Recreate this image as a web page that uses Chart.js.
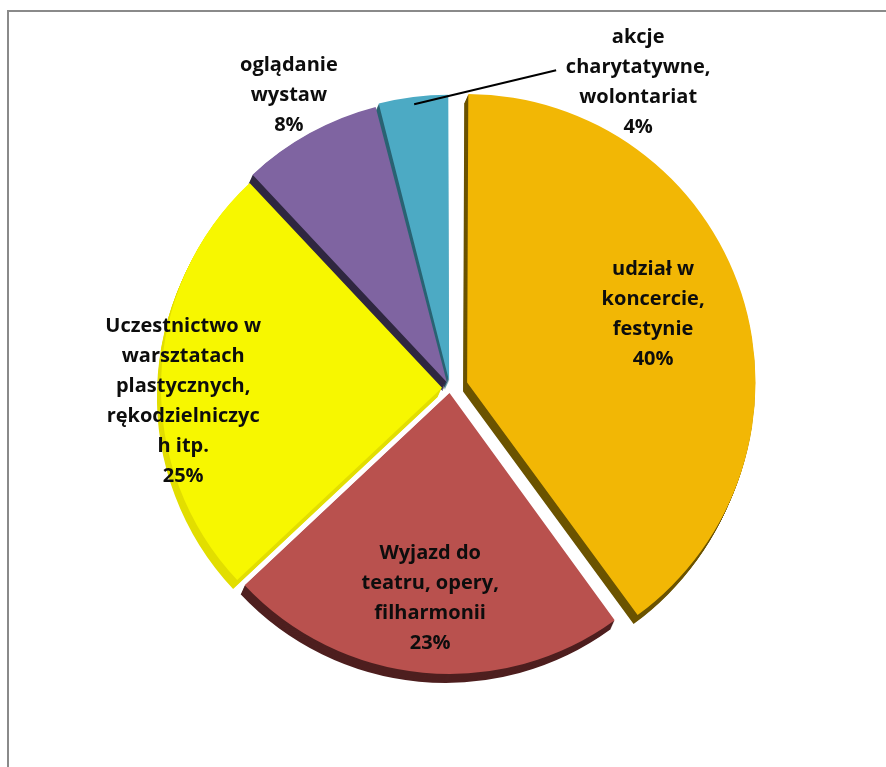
<!DOCTYPE html>
<html>
<head>
<meta charset="utf-8">
<script src="https://cdn.jsdelivr.net/npm/chart.js@4.4.1/dist/chart.umd.min.js"></script>
<style>
  html, body { margin: 0; padding: 0; background: #fff; overflow: hidden; }
  #wrap { position: relative; width: 886px; height: 767px; }
  #frame { position: absolute; left: 7px; top: 10px; width: 920px; height: 820px; border: 2px solid #8a8a8a; }
  #chart { position: absolute; left: 0; top: 0; }
</style>
</head>
<body>
<div id="wrap">
  <div id="frame"></div>
  <canvas id="chart" width="886" height="767"></canvas>
</div>
<script>
// categories (label lines as in the picture)
var categories = [
  ['udział w', 'koncercie,', 'festynie'],
  ['Wyjazd do', 'teatru, opery,', 'filharmonii'],
  ['Uczestnictwo w', 'warsztatach', 'plastycznych,', 'rękodzielniczyc', 'h itp.'],
  ['oglądanie', 'wystaw'],
  ['akcje', 'charytatywne,', 'wolontariat']
];
var values = [40, 23, 25, 8, 4];

var faceColors = ['#F2B705', '#B9514E', '#F7F700', '#7F64A1', '#4CAAC4'];
var sideColors = ['#6B5300', '#4E1F1F', '#E2DE00', '#2F2740', '#2A6373'];
var explode    = [72, 20, 32, 26, 28];   // arc offset (Chart.js draws offset/4)

// label placement: fraction of radius along the slice bisector, plus a nudge
var labelPlace = [
  { r: 0.76, dy: -8 },
  { r: 0.75, dy: 0 },
  { r: 0.95, dy: 22 },
  { r: 1.19, dy: 0 },
  { callout: true }
];

var FONT = 'bold 20px "Open Sans", "Noto Sans", sans-serif';
var LINE_H = 30;
var DEPTH = 9;

function sideArc(el, color) {
  // same arc geometry, plain options with side colour
  var fake = Object.create(el);
  var o = el.options;
  fake.options = {
    offset: o.offset, spacing: o.spacing, circular: o.circular,
    borderAlign: o.borderAlign, borderRadius: 0, borderWidth: 0,
    borderColor: color, backgroundColor: color,
    borderJoinStyle: o.borderJoinStyle, borderDash: [], borderDashOffset: 0
  };
  return fake;
}

var extrude = {
  id: 'extrude',
  beforeDatasetsDraw: function (chart) {
    var ctx = chart.ctx;
    var arcs = chart.getDatasetMeta(0).data;
    for (var k = DEPTH; k >= 1; k--) {
      ctx.save();
      ctx.translate(-0.45 * k, k);
      arcs.forEach(function (el, i) {
        var f = sideArc(el, sideColors[i]);
        el.draw.call(f, ctx);
      });
      ctx.restore();
    }
  }
};

var pieLabels = {
  id: 'pieLabels',
  afterDatasetsDraw: function (chart) {
    var ctx = chart.ctx;
    var arcs = chart.getDatasetMeta(0).data;
    var total = values.reduce(function (a, b) { return a + b; }, 0);
    ctx.save();
    ctx.font = FONT;
    ctx.fillStyle = '#0d0d0d';
    ctx.textAlign = 'center';
    ctx.textBaseline = 'middle';
    arcs.forEach(function (el, i) {
      var p = el.getProps(['x', 'y', 'startAngle', 'endAngle', 'outerRadius'], true);
      var mid = (p.startAngle + p.endAngle) / 2;
      var lines = categories[i].concat([Math.round(values[i] / total * 100) + '%']);
      var place = labelPlace[i];
      var cx, cy;
      if (place.callout) {
        var sx = p.x + Math.cos(mid) * (p.outerRadius + 5);
        var sy = p.y + Math.sin(mid) * (p.outerRadius + 5);
        var ex = sx + 142, ey = sy - 34;
        ctx.strokeStyle = '#000';
        ctx.lineWidth = 2;
        ctx.beginPath();
        ctx.moveTo(sx, sy);
        ctx.lineTo(ex, ey);
        ctx.stroke();
        cx = ex + 82;
        cy = ey + 12;
      } else {
        cx = p.x + Math.cos(mid) * p.outerRadius * place.r;
        cy = p.y + Math.sin(mid) * p.outerRadius * place.r + place.dy;
      }
      var top = cy - (lines.length - 1) * LINE_H / 2;
      lines.forEach(function (t, j) {
        ctx.fillText(t, cx, top + j * LINE_H);
      });
    });
    ctx.restore();
  }
};

new Chart(document.getElementById('chart'), {
  type: 'pie',
  data: {
    labels: categories,
    datasets: [{
      data: values,
      backgroundColor: faceColors,
      borderWidth: 0,
      offset: explode
    }]
  },
  options: {
    responsive: false,
    animation: false,
    radius: 281,
    layout: { padding: { left: 14, right: 0, top: 9, bottom: 0 } },
    plugins: {
      legend: { display: false },
      tooltip: { enabled: false }
    }
  },
  plugins: [extrude, pieLabels]
});
</script>
</body>
</html>
